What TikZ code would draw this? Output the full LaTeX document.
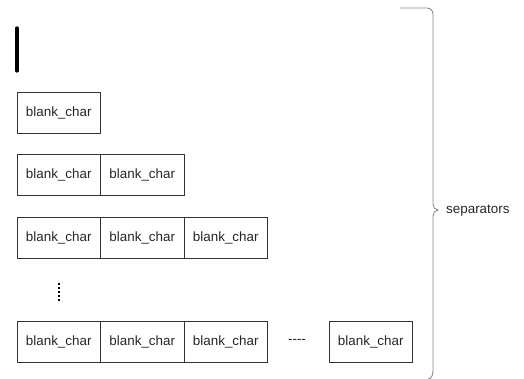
\documentclass[tikz,border=0pt]{standalone}
\usepackage{fontspec}
\setmainfont{Liberation Sans}
\begin{document}
\begin{tikzpicture}[x=1pt,y=-1pt,
  cell/.style={draw=black!80,line width=0.9pt,minimum width=83.5pt,minimum height=41pt,inner sep=0pt,outer sep=0pt,anchor=north west,font=\fontsize{13.4}{15}\selectfont,text=black!85},
  lbl/.style={font=\fontsize{13.4}{15}\selectfont,text=black!85,inner sep=0pt}]
\useasboundingbox (0,0) rectangle (524,379);
% cursor bar
\coordinate (bt) at (17,28);
\coordinate (bb) at (17,71);
\draw[line width=3.2pt,line cap=round] (bt) -- (bb);
% row 1
\node[cell] (r1a) at (17,92) {blank\_char};
% row 2
\node[cell] (r2a) at (17,154) {blank\_char};
\node[cell] (r2b) at (r2a.north east) {blank\_char};
% row 3
\node[cell] (r3a) at (17,217) {blank\_char};
\node[cell] (r3b) at (r3a.north east) {blank\_char};
\node[cell] (r3c) at (r3b.north east) {blank\_char};
% vertical ellipsis
\coordinate (dt) at (59,283);
\coordinate (db) at (59,302);
\draw[line width=1.6pt,dash pattern=on 2pt off 2pt] (dt) -- (db);
% row 4
\node[cell] (r4a) at (17,321) {blank\_char};
\node[cell] (r4b) at (r4a.north east) {blank\_char};
\node[cell] (r4c) at (r4b.north east) {blank\_char};
\node[lbl] (dash) at (297,341) {-{}-{}-{}-};
\node[cell] (r4d) at (329,321) {blank\_char};
% brace
\coordinate (btop) at (400,8);
\coordinate (tip) at (438,210);
\coordinate (bbot) at (428,379);
\draw[black!45,line width=0.9pt] (btop) -- (427,8) to[out=0,in=90] (433,14) -- (433,204) to[out=-90,in=180] (tip)
  to[out=180,in=90] (433,216) -- (433,370) to[out=-90,in=0] (bbot);
\node[lbl,anchor=west] (sep) at (446,211) {separators};
\end{tikzpicture}
\end{document}
